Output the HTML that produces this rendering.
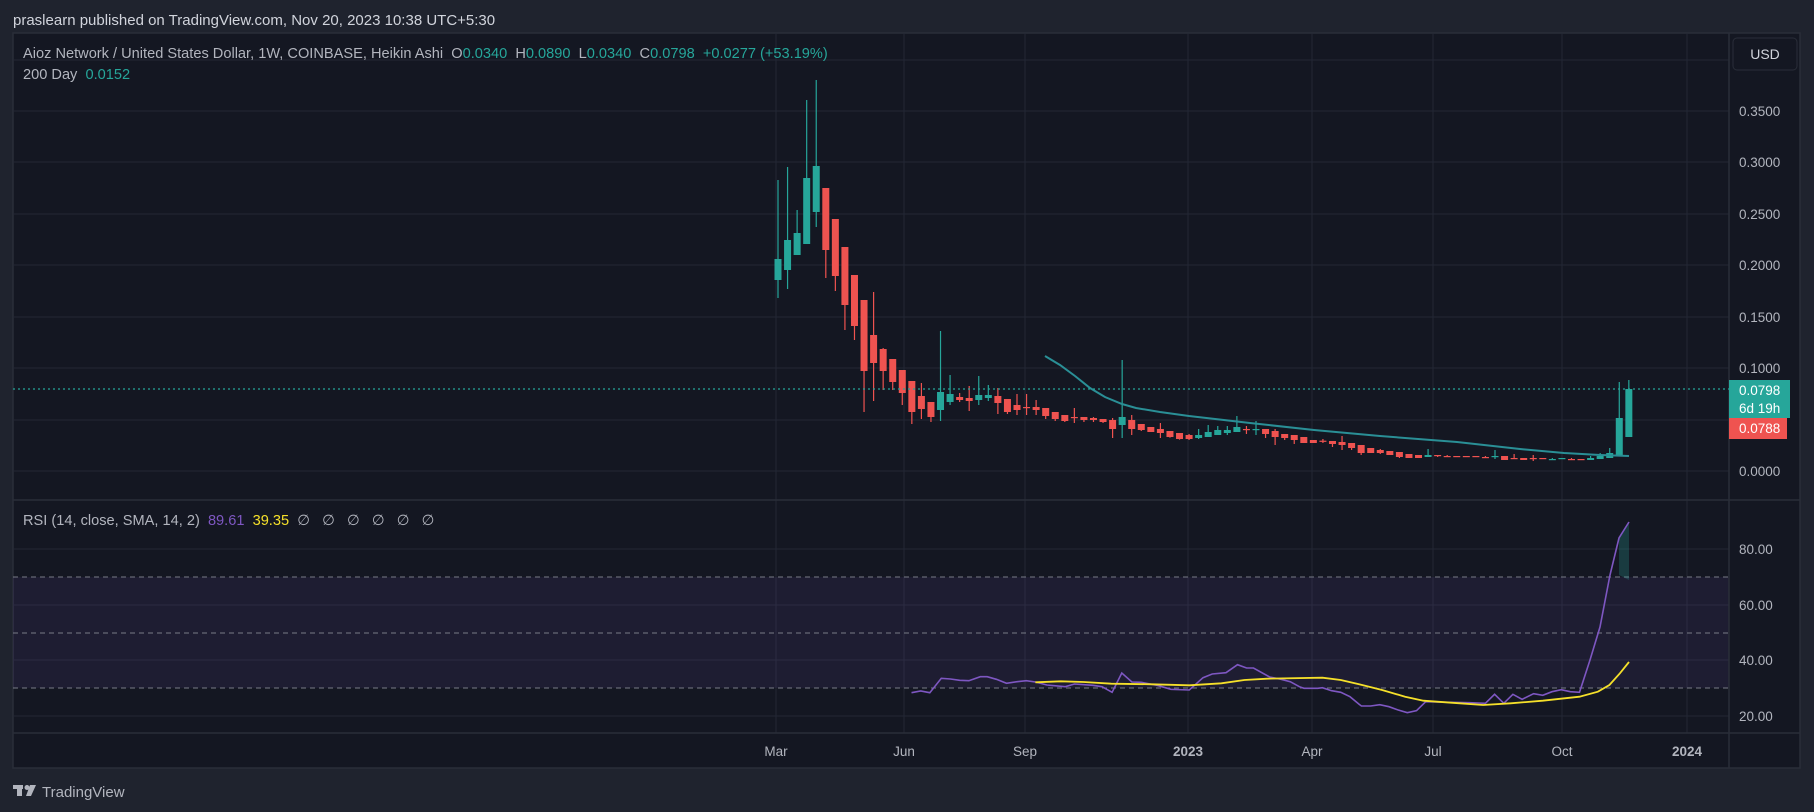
<!DOCTYPE html>
<html><head><meta charset="utf-8">
<style>
html,body{margin:0;padding:0;background:#1f232e;}
svg{display:block;font-family:"Liberation Sans","DejaVu Sans",sans-serif;}
</style></head>
<body>
<svg id="s" width="1814" height="812" viewBox="0 0 1814 812" xmlns="http://www.w3.org/2000/svg">
<rect x="0" y="0" width="1814" height="812" fill="#1f232e"/>
<rect x="13" y="33" width="1787" height="735" fill="#141722" stroke="#2a2e39" stroke-width="1.5"/>
<g id="grid" stroke="#232734" stroke-width="1"></g>
<rect x="13" y="577" width="1716" height="111" fill="#7e57c2" fill-opacity="0.10"/>
<g stroke="#787b86" stroke-width="1" stroke-dasharray="5,4">
<line x1="13" y1="577" x2="1729" y2="577"/>
<line x1="13" y1="633" x2="1729" y2="633"/>
<line x1="13" y1="688" x2="1729" y2="688"/>
</g>
<line x1="13" y1="500" x2="1800" y2="500" stroke="#2a2e39" stroke-width="1.5"/>
<line x1="13" y1="733" x2="1800" y2="733" stroke="#2a2e39" stroke-width="1.5"/>
<line x1="1729" y1="33" x2="1729" y2="768" stroke="#2a2e39" stroke-width="1.5"/>
<g id="candles"></g>
<polyline fill="none" stroke="#2a8f96" stroke-width="2" points="1045,356 1060,365 1075,376 1090,388 1105,397 1122,404 1136,408 1160,412 1189,416 1250,423 1314,430 1380,436 1457,442 1520,449 1564,453 1600,455 1629,456"/>
<line x1="13" y1="389" x2="1729" y2="389" stroke="#26a69a" stroke-width="1.2" stroke-dasharray="2,3"/>
<polygon points="1619,538 1629,522 1629,580 1619,575" fill="#26a69a" fill-opacity="0.25"/>
<polyline fill="none" stroke="#7e57c2" stroke-width="1.6" id="rsi"/>
<polyline fill="none" stroke="#f5e02a" stroke-width="1.8" id="sma"/>
<text x="13" y="25" fill="#d1d4dc" font-size="15">praslearn published on TradingView.com, Nov 20, 2023 10:38 UTC+5:30</text>
<text x="23" y="58" font-size="14.6" fill="#b2b5be" xml:space="preserve">Aioz Network / United States Dollar, 1W, COINBASE, Heikin Ashi  O<tspan fill="#26a69a">0.0340</tspan>  H<tspan fill="#26a69a">0.0890</tspan>  L<tspan fill="#26a69a">0.0340</tspan>  C<tspan fill="#26a69a">0.0798</tspan>  <tspan fill="#26a69a">+0.0277 (+53.19%)</tspan></text>
<text x="23" y="79" font-size="14.6" fill="#b2b5be" xml:space="preserve">200 Day  <tspan fill="#26a69a">0.0152</tspan></text>
<text x="23" y="525" font-size="14.6" fill="#b2b5be" xml:space="preserve">RSI (14, close, SMA, 14, 2)  <tspan fill="#7e57c2">89.61</tspan>  <tspan fill="#f5e02a">39.35</tspan>  ∅   ∅   ∅   ∅   ∅   ∅</text>
<rect x="1733" y="38" width="64" height="32" rx="4" fill="#141722" stroke="#2a2e39"/>
<text x="1765" y="59" font-size="14" fill="#d1d4dc" text-anchor="middle">USD</text>
<g font-size="13.5" fill="#b2b5be">
<text x="1739" y="116">0.3500</text>
<text x="1739" y="167">0.3000</text>
<text x="1739" y="219">0.2500</text>
<text x="1739" y="270">0.2000</text>
<text x="1739" y="322">0.1500</text>
<text x="1739" y="373">0.1000</text>
<text x="1739" y="476">0.0000</text>
<text x="1739" y="554">80.00</text>
<text x="1739" y="610">60.00</text>
<text x="1739" y="665">40.00</text>
<text x="1739" y="721">20.00</text>
</g>
<rect x="1729" y="380" width="61" height="38" fill="#26a69a"/>
<text x="1739" y="395" font-size="13.5" fill="#ffffff">0.0798</text>
<text x="1739" y="413" font-size="13.5" fill="#ffffff">6d 19h</text>
<rect x="1729" y="418" width="58" height="21" fill="#ef5350"/>
<text x="1739" y="433" font-size="13.5" fill="#ffffff">0.0788</text>
<g font-size="13.5" fill="#b2b5be" text-anchor="middle">
<text x="776" y="756">Mar</text>
<text x="904" y="756">Jun</text>
<text x="1025" y="756">Sep</text>
<text x="1188" y="756" font-weight="bold">2023</text>
<text x="1312" y="756">Apr</text>
<text x="1433" y="756">Jul</text>
<text x="1562" y="756">Oct</text>
<text x="1687" y="756" font-weight="bold">2024</text>
</g>
<g fill="#b2b5be">
<rect x="13" y="785" width="10" height="4"/>
<rect x="17" y="785" width="5" height="11"/>
<circle cx="27" cy="787.5" r="2.5"/>
<polygon points="30,785 36,785 31,796 26,796"/>
</g>
<text x="42" y="797" font-size="15" fill="#b2b5be">TradingView</text>
</svg>
<script>
(function(){
var NS="http://www.w3.org/2000/svg";
function el(p,t,a){var e=document.createElementNS(NS,t);for(var k in a)e.setAttribute(k,a[k]);p.appendChild(e);return e;}
var g=document.getElementById('grid');
[60,111,162,214,265,317,368,420,471,549,605,660,716].forEach(function(y){el(g,'line',{x1:13,y1:y,x2:1729,y2:y});});
[776,904,1025,1188,1312,1433,1562,1687].forEach(function(x){el(g,'line',{x1:x,y1:33,x2:x,y2:733});});
var A=[[567,630,330,684,1],[510,600,291,657,1],[489,555,420,555,1],[324,522,90,522,1],[288,426,30,471,1],
[354,540,354,624,0],[447,618,447,663,0],[531,705,531,780,0],[615,768,615,810,0],[690,903,690,1026,0],
[795,879,666,993,0],[837,903,834,960,0],[867,936,867,960,0],[900,969,900,1005,0],[933,1026,933,1062,0],
[978,1017,939,1047,0],[996,1041,996,1056,0],[966,1020,783,1053,1],[972,996,915,1005,1],[981,990,969,996,0],
[984,993,948,1023,0],[975,990,918,1005,1],[975,984,945,993,1],[978,999,954,1032,0],[987,1026,987,1032,0],
[1005,1020,972,1035,0],[1011,1014,972,1035,0],[1011,1020,990,1035,0],[1014,1038,1014,1047,0],[1026,1047,1026,1053,0],
[1035,1053,1035,1056,0],[1041,1044,1014,1059,0],[1041,1050,1041,1056,0],[1044,1050,1041,1056,0],[1047,1056,1047,1059,0]];
var B=[[240,267,234,294,0],[231,255,60,294,1],[240,267,225,285,0],[252,270,252,273,0],[261,276,261,276,0],
[267,279,249,294,0],[273,291,273,293,0],[279,297,279,299,0],[285,297,282,300,0],[285,294,267,297,1],
[276,291,255,291,1],[270,285,258,285,1],[270,279,258,285,1],[261,276,228,276,1],[267,270,258,282,0],
[267,270,243,285,1],[267,282,267,294,0],[273,291,267,315,0],[282,294,282,300,0],[285,300,285,312,0],
[291,309,291,309,0],[300,309,300,309,0],[302,305,297,309,0],[303,312,303,321,0],[306,315,288,330,0],
[309,324,309,330,0],[315,339,315,345,0],[324,339,324,339,0],[330,339,327,342,0],[333,345,333,345,0],
[336,351,336,354,0],[342,354,342,354,0],[345,354,345,354,0],[345,351,327,351,1],[345,348,345,351,0],
[348,351,345,351,0],[348,351,348,351,0],[348,351,348,351,0],[348,351,348,351,0],[351,354,348,354,0],
[348,351,330,357,1],[348,360,348,360,0],[354,357,342,357,0],[354,360,354,360,0],[354,357,345,363,0],
[354,357,354,357,0],[357,360,354,360,1],[354,357,354,357,1],[357,360,354,360,0],[357,360,357,360,0],
[354,360,348,360,1],[348,357,339,357,1],[339,354,324,354,1],[234,348,126,348,1],[147,291,120,291,1]];
var c=document.getElementById('candles');
function draw(d,base,i){
 var x=778+i*9.56, f=function(v){return base+v/3;};
 var col=d[4]?'#26a69a':'#ef5350';
 var bt=f(d[0]),bb=f(d[1]); if(bb-bt<1.2)bb=bt+1.2;
 el(c,'line',{x1:x,y1:f(d[2]),x2:x,y2:f(d[3]),stroke:col,'stroke-width':1.2});
 el(c,'rect',{x:x-3.5,y:bt,width:7,height:bb-bt,fill:col});
}
A.forEach(function(d,i){draw(d,70,i);});
B.forEach(function(d,i){draw(d,340,i+35);});
var R=[[25,158],[45,153],[65,158],[90,115],[110,117],[130,121],[150,122],[175,110],[190,110],[210,118],[232,130],[255,125],[275,122],[295,126],[320,135],[360,140],[380,132],[420,136],[440,140],[462,157],[483,99],[505,126],[525,127],[560,136],[590,148],[630,150],[660,113],[680,102],[710,98],[735,74],[755,84],[770,84],[805,111],[830,118],[850,125],[870,140],[880,145],[910,145],[920,143],[940,152],[960,157],[980,170],[1000,193],[1005,198],[1025,198],[1045,194],[1065,200],[1085,210],[1105,218],[1125,212],[1145,185],[1165,186],[1200,187],[1240,188],[1275,190],[1295,163],[1315,190],[1335,163],[1355,178],[1380,161],[1400,166],[1420,155],[1440,149],[1460,155],[1480,157]];
var pts=R.map(function(p){return (900+p[0]/2.178).toFixed(1)+','+(640+p[1]/3).toFixed(1);});
pts.push('1590,660','1600,627','1610,575','1619,538','1629,522');
document.getElementById('rsi').setAttribute('points',pts.join(' '));
var S=[[295,127],[350,124],[400,126],[460,131],[550,133],[630,136],[700,130],[750,120],[800,116],[920,113],[960,120],[1000,133],[1050,150],[1100,170],[1140,182],[1200,188],[1270,195],[1330,190],[1400,182],[1480,170],[1520,155],[1545,135],[1568,100]];
var sp=S.map(function(p){return (900+p[0]/2.178).toFixed(1)+','+(640+p[1]/3).toFixed(1);});
sp.push('1629,662');
document.getElementById('sma').setAttribute('points',sp.join(' '));
})();
</script>
</body></html>
